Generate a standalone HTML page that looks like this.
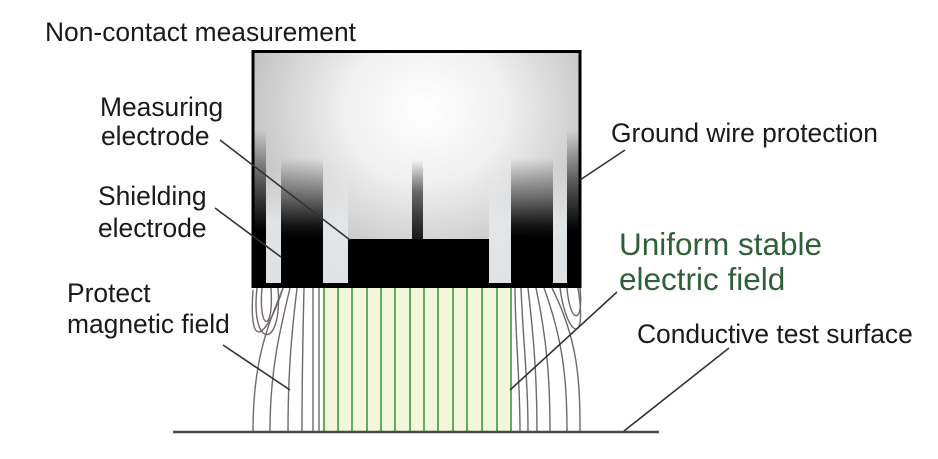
<!DOCTYPE html>
<html><head><meta charset="utf-8"><style>
html,body{margin:0;padding:0;background:#fff;}
svg{display:block;}
text{font-family:"Liberation Sans",Arial,sans-serif;font-size:26.4px;fill:#1a1a1a;}
</style></head><body>
<svg width="938" height="459" viewBox="0 0 938 459" xmlns="http://www.w3.org/2000/svg">
<defs>
<radialGradient id="bg" cx="425" cy="110" r="230" gradientUnits="userSpaceOnUse" gradientTransform="translate(425 110) scale(1 0.9) translate(-425 -110)">
<stop offset="0" stop-color="#ffffff"/>
<stop offset="0.35" stop-color="#f0f0f0"/>
<stop offset="0.75" stop-color="#c6c6c6"/>
<stop offset="1" stop-color="#a6a6a6"/>
</radialGradient>
<linearGradient id="colA" x1="0" y1="158" x2="0" y2="238" gradientUnits="userSpaceOnUse">
<stop offset="0" stop-color="#000" stop-opacity="0"/>
<stop offset="0.5" stop-color="#000" stop-opacity="0.5"/>
<stop offset="0.85" stop-color="#000" stop-opacity="0.9"/>
<stop offset="1" stop-color="#000" stop-opacity="1"/>
</linearGradient>
<linearGradient id="colB" x1="0" y1="130" x2="0" y2="232" gradientUnits="userSpaceOnUse">
<stop offset="0" stop-color="#000" stop-opacity="0"/>
<stop offset="0.5" stop-color="#000" stop-opacity="0.55"/>
<stop offset="1" stop-color="#000" stop-opacity="1"/>
</linearGradient>
<linearGradient id="gap" x1="0" y1="170" x2="0" y2="220" gradientUnits="userSpaceOnUse">
<stop offset="0" stop-color="#e6e8ea" stop-opacity="0"/>
<stop offset="1" stop-color="#e4e8ea" stop-opacity="0.9"/>
</linearGradient>
<linearGradient id="stem" x1="0" y1="160" x2="0" y2="238" gradientUnits="userSpaceOnUse">
<stop offset="0" stop-color="#000" stop-opacity="0"/>
<stop offset="0.4" stop-color="#000" stop-opacity="0.55"/>
<stop offset="1" stop-color="#111" stop-opacity="0.95"/>
</linearGradient>
</defs>

<!-- box -->
<rect x="253" y="52" width="327" height="235" fill="url(#bg)"/>
<!-- columns -->
<rect x="254" y="130" width="12" height="157" fill="url(#colB)"/>
<rect x="281" y="158" width="42" height="129" fill="url(#colA)"/>
<rect x="511" y="158" width="42" height="129" fill="url(#colA)"/>
<rect x="567" y="130" width="12" height="157" fill="url(#colB)"/>
<!-- gaps -->
<rect x="266" y="170" width="15" height="116" fill="url(#gap)"/>
<rect x="323" y="170" width="25" height="116" fill="url(#gap)"/>
<rect x="489" y="170" width="22" height="116" fill="url(#gap)"/>
<rect x="553" y="170" width="14" height="116" fill="url(#gap)"/>
<!-- stem & electrode -->
<rect x="412" y="160" width="11" height="80" fill="url(#stem)"/>
<rect x="348" y="239" width="141" height="48" fill="#000"/>
<rect x="253" y="51.5" width="327" height="235" fill="none" stroke="#000" stroke-width="3"/>
<rect x="252" y="283" width="329" height="5" fill="#000"/>

<!-- field region -->
<rect x="322" y="288" width="190" height="143" fill="#f2f7dc"/>
<g stroke="#63ad63" stroke-width="2" fill="none">
<line x1="324" y1="288" x2="324" y2="431"/>
<line x1="338" y1="288" x2="338" y2="431"/>
<line x1="352" y1="288" x2="352" y2="431"/>
<line x1="367" y1="288" x2="367" y2="431"/>
<line x1="381" y1="288" x2="381" y2="431"/>
<line x1="395" y1="288" x2="395" y2="431"/>
<line x1="410" y1="288" x2="410" y2="431"/>
<line x1="424" y1="288" x2="424" y2="431"/>
<line x1="438" y1="288" x2="438" y2="431"/>
<line x1="453" y1="288" x2="453" y2="431"/>
<line x1="467" y1="288" x2="467" y2="431"/>
<line x1="482" y1="288" x2="482" y2="431"/>
<line x1="497" y1="288" x2="497" y2="431"/>
<line x1="511" y1="288" x2="511" y2="431"/>
</g>
<!-- gray field lines left -->
<g stroke="#6f686d" stroke-width="1.4" fill="none">
<path d="M262,288 C258,330 274,335 271,288"/>
<path d="M257,288 C250,350 283,350 278,288"/>
<path d="M253,290 C248,360 270,330 283,288"/>
<path d="M283,288 C268,325 253,360 253,431"/>
<path d="M290,288 C280,330 270,370 270,431"/>
<path d="M297,288 C292,330 288,370 288,431"/>
<path d="M304,288 C303,330 302,380 302,431"/>
<path d="M313,288 L313,431"/>
<path d="M319,288 L319,431"/>
</g>
<!-- gray field lines right -->
<g stroke="#6f686d" stroke-width="1.4" fill="none">
<path d="M515,288 C515,330 520,380 520,431"/>
<path d="M521,288 C523,340 528,380 528,431"/>
<path d="M528,288 C534,340 537,380 537,431"/>
<path d="M536,288 C547,340 550,380 550,431"/>
<path d="M544,288 C563,340 567,380 567,431"/>
<path d="M552,288 C578,340 580,380 580,431"/>
<path d="M560,288 C566,335 588,350 578,288"/>
<path d="M567,288 C570,325 584,325 580,288"/>
</g>

<!-- ground line -->
<line x1="173" y1="432" x2="659" y2="432" stroke="#4a4a4a" stroke-width="2.5"/>

<!-- leaders -->
<g stroke="#333" stroke-width="1.6">
<line x1="220" y1="140" x2="350" y2="240"/>
<line x1="215" y1="208" x2="281" y2="257"/>
<line x1="223" y1="345" x2="290" y2="390"/>
<line x1="625" y1="150" x2="580" y2="180"/>
<line x1="617" y1="292" x2="510" y2="390"/>
<line x1="729" y1="348" x2="624" y2="431"/>
</g>

<!-- labels -->
<text x="45" y="41">Non-contact measurement</text>
<text x="100" y="116">Measuring</text>
<text x="101" y="145">electrode</text>
<text x="98" y="205">Shielding</text>
<text x="98" y="237">electrode</text>
<text x="67" y="302">Protect</text>
<text x="67" y="333">magnetic field</text>
<text x="611" y="142">Ground wire protection</text>
<text x="619" y="255" style="font-size:31.5px;fill:#2f5f38">Uniform stable</text>
<text x="619" y="290" style="font-size:31.5px;fill:#2f5f38">electric field</text>
<text x="637" y="343">Conductive test surface</text>
</svg>
</body></html>
